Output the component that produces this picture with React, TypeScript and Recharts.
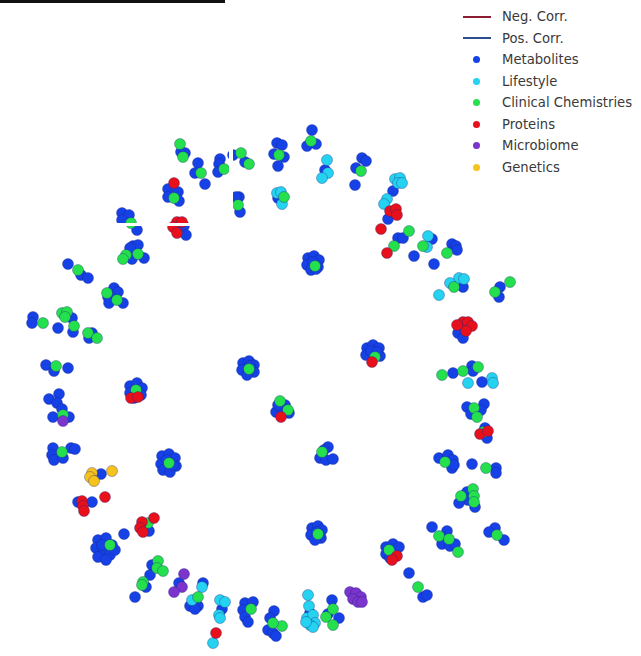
import React from 'react';
import { ScatterChart, Scatter, XAxis, YAxis } from 'recharts';

type Pt = [number, number];

const metabolites: Pt[] = [
  [181, 152], [185, 153], [198, 163], [195, 173], [205, 184], [220, 159], [219, 164], [218, 172],
  [233, 155], [245, 162], [277, 143], [282, 145], [274, 154], [284, 157], [278, 166], [312, 130],
  [307, 146], [316, 144], [325, 170], [168, 189], [178, 192], [168, 197], [179, 201], [239, 197],
  [236, 197], [240, 212], [278, 198], [122, 213], [129, 215], [122, 220], [137, 230], [184, 226],
  [186, 235], [133, 246], [138, 245], [130, 248], [132, 259], [144, 258],
  [362, 158], [366, 161], [356, 168], [355, 185], [393, 191], [388, 219], [398, 238], [403, 238],
  [414, 256], [432, 239], [434, 264], [452, 244], [456, 246], [457, 250], [463, 287], [500, 287],
  [499, 297], [458, 333], [463, 338],
  [308, 258], [314, 256], [319, 260], [307, 265], [318, 267], [311, 270], [316, 269], [313, 262],
  [367, 348], [373, 345], [379, 348], [366, 355], [380, 356], [371, 351], [377, 352],
  [472, 366], [473, 371], [453, 373], [482, 382], [467, 407], [484, 404], [481, 410], [471, 414],
  [487, 438], [485, 428], [439, 458], [448, 455], [453, 460], [452, 468], [454, 465], [472, 464],
  [496, 468], [496, 473], [467, 492], [468, 500], [459, 503], [475, 507], [432, 527], [447, 531],
  [443, 538], [442, 544], [450, 546], [455, 544], [495, 528], [489, 532], [504, 540],
  [386, 547], [393, 544], [399, 547], [386, 554], [390, 558],
  [409, 573], [423, 597], [427, 595],
  [312, 528], [318, 526], [322, 530], [311, 535], [321, 538], [315, 540], [317, 532],
  [310, 613], [332, 600], [328, 614], [339, 618],
  [274, 611], [270, 618], [268, 630], [273, 633], [276, 636], [245, 603], [253, 602], [243, 610],
  [245, 617], [248, 622], [222, 609], [203, 583], [190, 606], [198, 606], [195, 609], [179, 583],
  [152, 565], [150, 575], [146, 587], [135, 597], [149, 531], [124, 534],
  [98, 540], [106, 538], [112, 545], [96, 548], [103, 553], [110, 555], [98, 557], [106, 560],
  [115, 550], [102, 545],
  [78, 502], [92, 502], [101, 474], [53, 448], [52, 455], [54, 460], [63, 458], [71, 448], [75, 449],
  [162, 456], [169, 454], [175, 458], [161, 464], [176, 466], [163, 470], [170, 472], [167, 460],
  [173, 465],
  [130, 386], [137, 383], [142, 388], [130, 393], [141, 395], [134, 398],
  [243, 363], [249, 361], [254, 365], [242, 370], [254, 372], [247, 375], [250, 366],
  [285, 405], [276, 412], [289, 413], [281, 408], [278, 405],
  [328, 447], [320, 458], [326, 460], [333, 459], [324, 450],
  [59, 394], [49, 399], [57, 403], [62, 409], [53, 417], [69, 417], [46, 365], [54, 371], [68, 368],
  [33, 317], [32, 323], [58, 328], [72, 318], [73, 332], [92, 333], [89, 338], [68, 264], [81, 275],
  [88, 278], [114, 288], [118, 292], [108, 297], [113, 298], [123, 303], [109, 303],
];

const lifestyle: Pt[] = [
  [327, 160], [328, 173], [322, 178], [277, 193], [281, 192], [282, 204], [395, 179], [400, 178],
  [398, 183], [402, 183], [387, 199], [384, 204], [427, 247], [428, 236], [459, 278], [464, 279],
  [450, 283], [439, 295], [468, 383], [492, 378], [493, 383], [308, 595], [309, 606], [307, 618],
  [313, 615], [315, 623], [310, 625], [313, 627], [306, 622], [202, 587], [192, 600], [220, 600],
  [225, 602], [219, 615], [220, 618], [213, 643],
];

const clinical: Pt[] = [
  [180, 144], [183, 157], [201, 173], [224, 169], [241, 153], [249, 164], [279, 155], [311, 141],
  [174, 198], [238, 205], [284, 197], [131, 223], [126, 255], [123, 259], [138, 254], [361, 171],
  [409, 231], [394, 246], [423, 246], [447, 253], [454, 287], [510, 282], [495, 292], [315, 266],
  [375, 357], [442, 375], [463, 371], [478, 367], [474, 408], [477, 417], [483, 432], [445, 462],
  [486, 468], [473, 489], [461, 496], [474, 496], [474, 502], [439, 536], [449, 539], [458, 552],
  [497, 535], [389, 550], [418, 587], [318, 534], [333, 609], [326, 617], [333, 625], [282, 626],
  [273, 623], [251, 609], [198, 597], [158, 561], [157, 568], [163, 571], [143, 582], [142, 585],
  [148, 523], [110, 545], [169, 463], [136, 390], [249, 369], [280, 401], [288, 410], [322, 452],
  [62, 452], [63, 415], [56, 366], [43, 323], [62, 313], [67, 312], [65, 317], [74, 326], [88, 333],
  [97, 338], [78, 270], [107, 293], [117, 300],
];

const proteins: Pt[] = [
  [174, 183], [177, 222], [182, 222], [173, 227], [177, 233], [390, 211], [396, 209], [397, 215],
  [381, 229], [387, 253], [463, 322], [468, 322], [472, 326], [466, 331], [457, 325], [480, 434],
  [488, 431], [397, 556], [392, 560], [372, 362], [281, 417], [131, 398], [138, 397], [82, 501],
  [83, 506], [84, 511], [105, 497], [142, 522], [154, 518], [140, 528], [143, 532], [216, 633],
];

const microbiome: Pt[] = [
  [63, 421], [184, 574], [182, 587], [174, 592], [350, 592], [356, 593], [361, 597], [353, 599],
  [358, 602], [362, 602],
];

const genetics: Pt[] = [[92, 473], [90, 477], [94, 481], [112, 471]];

const groups = [
  { name: 'Metabolites', color: '#1541e6', pts: metabolites },
  { name: 'Lifestyle', color: '#25d3f0', pts: lifestyle },
  { name: 'Clinical Chemistries', color: '#24e04c', pts: clinical },
  { name: 'Proteins', color: '#e8111b', pts: proteins },
  { name: 'Microbiome', color: '#7b34cc', pts: microbiome },
  { name: 'Genetics', color: '#f6c21c', pts: genetics },
];

const edgeLegend = [
  { name: 'Neg. Corr.', color: '#8c1c31' },
  { name: 'Pos. Corr.', color: '#2c4f8b' },
];

const dot = (color: string) => (props: any) => (
  <circle cx={props.cx} cy={props.cy} r={5.5} fill={color} stroke="#1a237e" strokeOpacity={0.5} strokeWidth={0.7} />
);

export default function App() {
  const rowH = 21.5;
  return (
    <div style={{ position: 'absolute', left: 0, top: 0, width: 641, height: 656, background: '#fff' }}>
      <ScatterChart width={641} height={656} margin={{ top: 0, right: 0, bottom: 0, left: 0 }}>
        <XAxis type="number" dataKey="x" domain={[0, 641]} hide />
        <YAxis type="number" dataKey="y" domain={[0, 656]} reversed hide />
        {groups.map((g) => (
          <Scatter
            key={g.name}
            name={g.name}
            data={g.pts.map(([x, y]) => ({ x, y }))}
            fill={g.color}
            shape={dot(g.color)}
            isAnimationActive={false}
          />
        ))}
      </ScatterChart>
      <div style={{ position: 'absolute', left: 0, top: 0, width: 225, height: 3, background: '#111' }} />
      <div style={{ position: 'absolute', left: 108, top: 223, width: 86, height: 3, background: '#fff' }} />
      <div style={{ position: 'absolute', left: 229, top: 147, width: 4, height: 67, background: '#fff' }} />
      <div style={{ position: 'absolute', left: 455, top: 6, fontFamily: '"DejaVu Sans", sans-serif', fontSize: 13.2, color: '#3a3a3a' }}>
        {edgeLegend.map((e) => (
          <div key={e.name} style={{ height: rowH, display: 'flex', alignItems: 'center' }}>
            <div style={{ width: 28, height: 2, background: e.color, marginLeft: 8, marginRight: 11 }} />
            <span>{e.name}</span>
          </div>
        ))}
        {groups.map((g) => (
          <div key={g.name} style={{ height: rowH, display: 'flex', alignItems: 'center' }}>
            <div style={{ width: 7, height: 7, borderRadius: 4, background: g.color, marginLeft: 18, marginRight: 22 }} />
            <span>{g.name}</span>
          </div>
        ))}
      </div>
    </div>
  );
}
